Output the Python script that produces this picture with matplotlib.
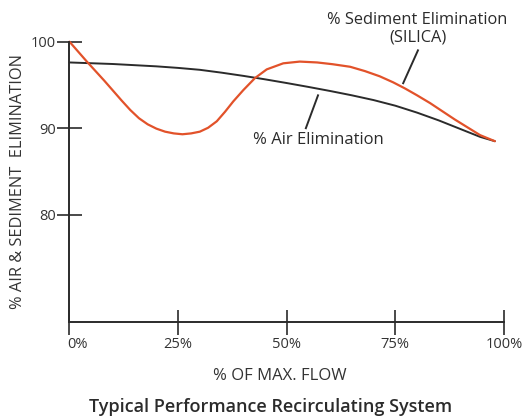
import numpy as np
import matplotlib
matplotlib.use('Agg')
import matplotlib.pyplot as plt
from matplotlib.transforms import ScaledTranslation

plt.rcParams['font.family'] = ['Open Sans', 'DejaVu Sans']

# valeurs
flow_ticks = [0, 25, 50, 75, 100]
flow_labels = ['0%', '25%', '50%', '75%', '100%']
elim_ticks = [80, 90, 100]

sed_flow = [0, 2, 4, 6, 8, 10, 12, 14, 16, 18, 20, 22, 24, 26, 28, 30, 31.9,
            33.9, 35.8, 37.7, 40.0, 42.7, 45.4, 49.2, 53.0, 57.0, 60.5, 64.6,
            68.0, 71.4, 74.5, 77.2, 80.0, 83.0, 86.0, 88.7, 91.6, 94.5, 97.9]
sed_elim = [100, 98.85, 97.7, 96.6, 95.5, 94.35, 93.2, 92.1, 91.15, 90.45, 89.95,
            89.6, 89.4, 89.3, 89.4, 89.6, 90.05, 90.8, 91.9, 93.1, 94.4, 95.8,
            96.8, 97.5, 97.7, 97.6, 97.4, 97.1, 96.6, 96.0, 95.3, 94.6, 93.8,
            92.9, 91.9, 91.0, 90.1, 89.2, 88.5]

air_flow = [0, 10, 20, 25, 30, 35, 40, 45, 50, 55, 60, 65, 70, 75, 80, 85, 90, 94.5, 97.9]
air_elim = [97.6, 97.42, 97.15, 96.97, 96.75, 96.42, 96.05, 95.65, 95.22, 94.77,
            94.3, 93.8, 93.25, 92.6, 91.8, 90.9, 89.9, 89.0, 88.5]

red = '#e2522a'
dark = '#2b2b2b'

fig = plt.figure(figsize=(5.22, 4.19), dpi=100)
ax = fig.add_axes([0.1331, 0.2315, 0.8324, 0.669])

ax.plot(air_flow, air_elim, color=dark, lw=1.4, solid_capstyle='round', clip_on=False)
ax.plot(sed_flow, sed_elim, color=red, lw=1.6, solid_capstyle='round', clip_on=False)

ax.set_xlim(0, 100)
ax.set_ylim(67.6, 100)

for s in ['top', 'right']:
    ax.spines[s].set_visible(False)
for s in ['left', 'bottom']:
    ax.spines[s].set_color(dark)
    ax.spines[s].set_linewidth(1.4)

ax.set_xticks(flow_ticks)
ax.set_xticklabels(flow_labels)
ax.set_yticks(elim_ticks)
ax.tick_params(direction='inout', length=18, width=1.2, color=dark,
               labelsize=10.5, labelcolor='#333333')
ax.tick_params(axis='x', pad=2)
ax.tick_params(axis='y', pad=1)

# 0% est decale vers la droite
lab0 = ax.get_xticklabels()[0]
lab0.set_transform(lab0.get_transform() + ScaledTranslation(6 / 72, 0, fig.dpi_scale_trans))

ax.set_xlabel('% OF MAX. FLOW', fontsize=12, color='#333333', labelpad=14)
ax.xaxis.set_label_coords(0.4845, -0.165)
ax.set_ylabel('% AIR & SEDIMENT  ELIMINATION', fontsize=11.8, color='#333333', labelpad=3)
fig.text(0.518, 0.028, 'Typical Performance Recirculating System', ha='center',
         va='center', fontsize=13, fontweight='semibold', color='#2b2b2b')

# annotations
ax.text(80.0, 102.5, '% Sediment Elimination', ha='center', va='center', fontsize=11.8, color='#2b2b2b')
ax.text(80.2, 100.5, '(SILICA)', ha='center', va='center', fontsize=11.8, color='#2b2b2b')
ax.plot([76.8, 80.2], [95.2, 99.0], color=dark, lw=1.4, clip_on=False)
ax.text(57.2, 88.6, '% Air Elimination', ha='center', va='center', fontsize=12, color='#2b2b2b')
ax.plot([54.4, 57.2], [90.0, 93.8], color=dark, lw=1.4, clip_on=False)

fig.savefig('out.png', dpi=100)
